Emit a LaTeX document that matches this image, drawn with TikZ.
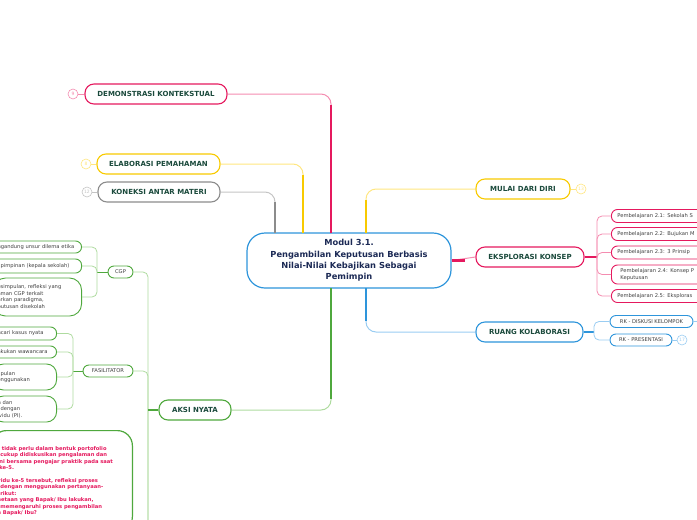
\documentclass[tikz,border=0pt]{standalone}
\usepackage{fontspec}
\setmainfont{DejaVu Sans}
\usetikzlibrary{positioning,calc}

\definecolor{mmred}{HTML}{E5195E}
\definecolor{mmredlt}{HTML}{F48CB0}
\definecolor{mmyel}{HTML}{F8CA00}
\definecolor{mmyellt}{HTML}{FFE680}
\definecolor{mmgray}{HTML}{8C8C8C}
\definecolor{mmgraylt}{HTML}{C4C4C4}
\definecolor{mmblue}{HTML}{2E95DB}
\definecolor{mmbluelt}{HTML}{9ACDF2}
\definecolor{mmgreen}{HTML}{4FA83D}
\definecolor{mmgreenlt}{HTML}{AEDB9F}
\definecolor{mmtext}{HTML}{1B4A3C}
\definecolor{mmnavy}{HTML}{1C2A55}

\tikzset{
  root/.style={draw=mmblue, line width=1.2pt, fill=white, rounded corners=18pt,
    minimum width=204, minimum height=55, align=center, text=mmnavy,
    font=\fontsize{8.3}{11.3}\selectfont\bfseries},
  topic/.style={draw=#1, line width=1.1pt, fill=white, rounded corners=9pt,
    minimum height=20, text=mmtext, font=\fontsize{7}{8}\selectfont\bfseries},
  leaf/.style={draw=#1, line width=0.9pt, fill=white, rounded corners=6pt,
    minimum height=13, inner ysep=1.5pt, text=black!75,
    font=\fontsize{5.2}{6.4}\selectfont},
  cutleaf/.style={leaf=mmgreen, anchor=east, inner xsep=4pt, text width=#1, align=left},
  num/.style={draw=#1, circle, line width=0.6pt, fill=white, minimum size=10,
    inner sep=0pt, text=#1, font=\fontsize{4.5}{5}\selectfont},
  trunk/.style={draw=#1, line width=2.2pt},
  twig/.style={draw=#1, line width=1pt, rounded corners=10pt},
  leg/.style={draw=#1, line width=0.8pt, rounded corners=5pt},
}

\begin{document}
\begin{tikzpicture}[x=1pt, y=-1pt]
  \clip (0,0) rectangle (697,520);

  % central topic
  \node[root] (modul) at (349,260.5) {Modul 3.1.\\Pengambilan Keputusan Berbasis\\Nilai-Nilai Kebajikan Sebagai\\Pemimpin};

  % main topics
  \node[topic=mmred, minimum width=142] (demo) at (156,94) {DEMONSTRASI KONTEKSTUAL};
  \node[topic=mmyel, minimum width=123] (elab) at (158.5,164) {ELABORASI PEMAHAMAN};
  \node[topic=mmgray, minimum width=122] (kon) at (159,192) {KONEKSI ANTAR MATERI};
  \node[topic=mmyel, minimum width=94] (mulai) at (523,189) {MULAI DARI DIRI};
  \node[topic=mmred, minimum width=108] (eksp) at (530,257) {EKSPLORASI KONSEP};
  \node[topic=mmblue, minimum width=107] (ruang) at (529.5,332) {RUANG KOLABORASI};
  \node[topic=mmgreen, minimum width=72] (aksi) at (195,410) {AKSI NYATA};

  % numbers
  \node[num=mmredlt] (n9) at (73,94) {9};
  \node[num=mmyellt] (n8) at (86,164) {8};
  \node[num=mmgraylt] (n12) at (87,192) {12};
  \node[num=mmyellt] (n13) at (581,189) {13};
  \draw[mmredlt, line width=0.8pt] (n9) -- (demo);
  \draw[mmyellt, line width=0.8pt] (n8) -- (elab);
  \draw[mmgraylt, line width=0.8pt] (n12) -- (kon);
  \draw[mmyellt, line width=0.8pt] (mulai) -- (n13);

  % connectors from the centre
  \coordinate (t1) at (275,233);
  \coordinate (t2) at (303,233);
  \coordinate (t3) at (331,233);
  \coordinate (t4) at (366,233);
  \coordinate (b1) at (331,288);
  \coordinate (b2) at (366,288);
  \draw[twig=mmgraylt] (kon.east) -| (t1);
  \draw[trunk=mmgray] (t1) -- ++(0,-31);
  \draw[twig=mmyellt] (elab.east) -| (t2);
  \draw[trunk=mmyel] (t2) -- ++(0,-58);
  \draw[twig=mmredlt] (demo.east) -| (t3);
  \draw[trunk=mmred] (t3) -- ++(0,-128);
  \draw[twig=mmyellt] (mulai.west) -| (t4);
  \draw[trunk=mmyel] (t4) -- ++(0,-33);
  \draw[twig=mmgreenlt] (aksi.east) -| (b1);
  \draw[trunk=mmgreen] (b1) -- ++(0,111);
  \draw[twig=mmbluelt] (ruang.west) -| (b2);
  \draw[trunk=mmblue] (b2) -- ++(0,33);
  \draw[twig=mmredlt] (modul.east) -- (eksp.west);
  \draw[trunk=mmred] (modul.east) -- ++(13,0);

  % eksplorasi konsep
  \node[leaf=mmred, anchor=west, inner xsep=6pt, text width=150, align=left] (p1) at (611,216) {Pembelajaran 2.1: Sekolah S};
  \node[leaf=mmred, anchor=west, inner xsep=6pt, text width=150, align=left] (p2) at (611,234) {Pembelajaran 2.2: Bujukan M};
  \node[leaf=mmred, anchor=west, inner xsep=6pt, text width=150, align=left] (p3) at (611,252.5) {Pembelajaran 2.3: 3 Prinsip};
  \node[leaf=mmred, anchor=west, inner xsep=9pt, text width=150, align=left, minimum height=19] (p4) at (611,274.5) {Pembelajaran 2.4: Konsep P\\Keputusan};
  \node[leaf=mmred, anchor=west, inner xsep=6pt, text width=150, align=left] (p5) at (611,296) {Pembelajaran 2.5: Eksploras};
  \coordinate (eksbr) at (597,0);
  \draw[mmred, line width=1.6pt] (eksp.east) -- (eksp.east -| eksbr);
  \foreach \n in {p1,p2,p3,p4,p5}
    \draw[leg=mmredlt] (eksp.east -| eksbr) |- (\n.west);

  % ruang kolaborasi
  \node[leaf=mmblue, minimum width=83, minimum height=12] (rk1) at (651.5,321.5) {RK - DISKUSI KELOMPOK};
  \node[leaf=mmblue, minimum width=62, minimum height=12] (rk2) at (641,340) {RK - PRESENTASI};
  \node[num=mmbluelt] (n17) at (682,340) {17};
  \draw[mmbluelt, line width=0.8pt] (rk2) -- (n17);
  \coordinate (rkend) at (705,321.5);
  \draw[mmbluelt, line width=0.8pt] (rk1.east) -- (rkend);
  \coordinate (ruabr) at (594,0);
  \draw[mmblue, line width=1.4pt] (ruang.east) -- (ruang.east -| ruabr);
  \foreach \n in {rk1,rk2}
    \draw[leg=mmbluelt] (ruang.east -| ruabr) |- (\n.west);

  % aksi nyata
  \node[leaf=mmgreen, minimum width=25, minimum height=12] (cgp) at (120.5,272) {CGP};
  \node[leaf=mmgreen, minimum width=50, minimum height=12] (fasil) at (108,371) {FASILITATOR};
  \coordinate (aksiend) at (148,535);
  \draw[leg=mmgreenlt] (cgp.east) -| (aksiend);
  \draw[leg=mmgreenlt] (fasil.east) -| (aksiend);
  \draw[mmgreen, line width=1.4pt] (aksi.west) -- (aksi.west -| aksiend);

  % cgp
  \node[cutleaf=80, minimum height=12] (c1) at (82,247) {ngandung unsur dilema etika};
  \node[cutleaf=80, minimum height=14] (c2) at (82,266) {\hspace{3pt}pimpinan (kepala sekolah)};
  \node[cutleaf=80, minimum height=38, rounded corners=12pt] (c3) at (82,297) {esimpulan, refleksi yang\\aman CGP terkait\\arkan paradigma,\\putusan disekolah};
  \coordinate (cgpbr) at (97,0);
  \draw[mmgreen, line width=1pt] (cgp.west) -- (cgp.west -| cgpbr);
  \foreach \n in {c1,c2,c3}
    \draw[leg=mmgreenlt] (cgp.west -| cgpbr) |- (\n.east);

  % fasilitator
  \node[cutleaf=55] (f1) at (57,333.5) {ncari kasus nyata};
  \node[cutleaf=55, minimum height=12] (f2) at (57,352) {akukan wawancara};
  \node[cutleaf=55, minimum height=26, rounded corners=10pt] (f3) at (57,377) {\hspace{3pt}pulan\\enggunakan};
  \node[cutleaf=55, minimum height=26, rounded corners=10pt] (f4) at (57,409) {n dan\\\hspace{3pt}dengan\\ividu (PI).};
  \coordinate (fasbr) at (73,0);
  \draw[mmgreen, line width=1pt] (fasil.west) -- (fasil.west -| fasbr);
  \foreach \n in {f1,f2,f3,f4}
    \draw[leg=mmgreenlt] (fasil.west -| fasbr) |- (\n.east);

  % portofolio note
  \node[draw=mmgreen, line width=1.2pt, fill=white, rounded corners=15pt, anchor=north east,
    inner xsep=6pt, inner ysep=16pt, text width=129, align=left, text=mmred,
    font=\fontsize{5.2}{6.4}\selectfont\bfseries] (porto) at (133,430)
    {. tidak perlu dalam bentuk portofolio\\
     \hspace{3pt}cukup didiskusikan pengalaman dan\\
     \hspace{2pt}ni bersama pengajar praktik pada saat\\
     \hspace{2pt}ke-5.\\[6.4pt]
     vidu ke-5 tersebut, refleksi proses\\
     \hspace{3pt}dengan menggunakan pertanyaan-\\
     \hspace{3pt}rikut:\\
     netaan yang Bapak/ Ibu lakukan,\\
     \hspace{3pt}memengaruhi proses pengambilan\\
     n Bapak/ Ibu?};
\end{tikzpicture}
\end{document}
